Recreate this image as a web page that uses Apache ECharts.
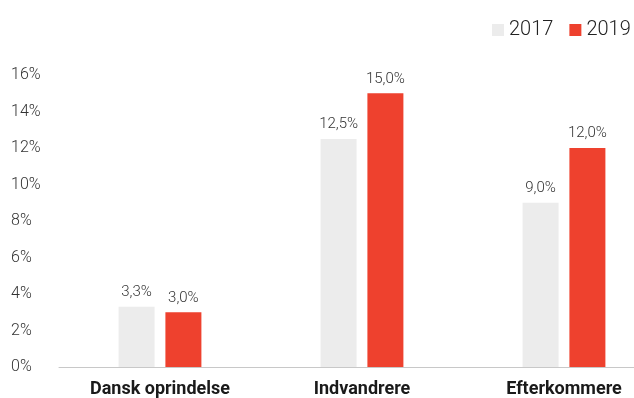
<!DOCTYPE html>
<html>
<head>
<meta charset="utf-8">
<script src="https://cdn.jsdelivr.net/npm/echarts@6/dist/echarts.min.js"></script>
<style>
html,body{margin:0;padding:0;background:#fff;overflow:hidden;width:634px;height:398px;}
#c{width:670px;height:398px;}
</style>
</head>
<body>
<div id="c"></div>
<script>
const categories = ['Dansk oprindelse', 'Indvandrere', 'Efterkommere'];
const seriesNames = ['2017', '2019'];
const values2017 = [3.3, 12.5, 9.0];
const values2019 = [3.0, 15.0, 12.0];
const yTicks = [0, 2, 4, 6, 8, 10, 12, 14, 16];

const chart = echarts.init(document.getElementById('c'), null, {renderer: 'canvas'});
const fmt = v => v.toFixed(1).replace('.', ',') + '%';
const labelCfg = {
  show: true, position: 'top', distance: 7,
  fontFamily: 'Roboto', fontSize: 15, fontWeight: 300, color: '#333',
  formatter: p => fmt(p.value)
};
chart.setOption({
  animation: false,
  textStyle: {fontFamily: 'Roboto'},
  legend: {
    data: seriesNames,
    left: 487, top: 15, width: 200, orient: 'horizontal',
    itemWidth: 12, itemHeight: 12, itemGap: 16,
    icon: 'rect',
    textStyle: {fontFamily: 'Roboto', fontSize: 20, fontWeight: 300, color: '#222'}
  },
  grid: {left: 59, right: 5, top: 75, bottom: 29, containLabel: false},
  xAxis: {
    type: 'category', data: categories,
    axisLine: {lineStyle: {color: '#c8c8c8', width: 1}},
    axisTick: {show: false},
    axisLabel: {fontFamily: 'Roboto', fontSize: 18, fontWeight: 'bold', color: '#1a1a1a', margin: 13}
  },
  yAxis: {
    type: 'value', min: yTicks[0], max: yTicks[yTicks.length - 1], interval: 2,
    axisLine: {show: false}, axisTick: {show: false}, splitLine: {show: false},
    axisLabel: {fontFamily: 'Roboto', fontSize: 16, fontWeight: 300, color: '#333', align: 'left', margin: 48,
      formatter: v => v + '%'}
  },
  series: [
    {name: seriesNames[0], type: 'bar', data: values2017, barWidth: 36, barGap: '30%',
     itemStyle: {color: '#ececec'}, label: labelCfg},
    {name: seriesNames[1], type: 'bar', data: values2019, barWidth: 36,
     itemStyle: {color: '#ee412e'}, label: labelCfg}
  ]
});
</script>
</body>
</html>
